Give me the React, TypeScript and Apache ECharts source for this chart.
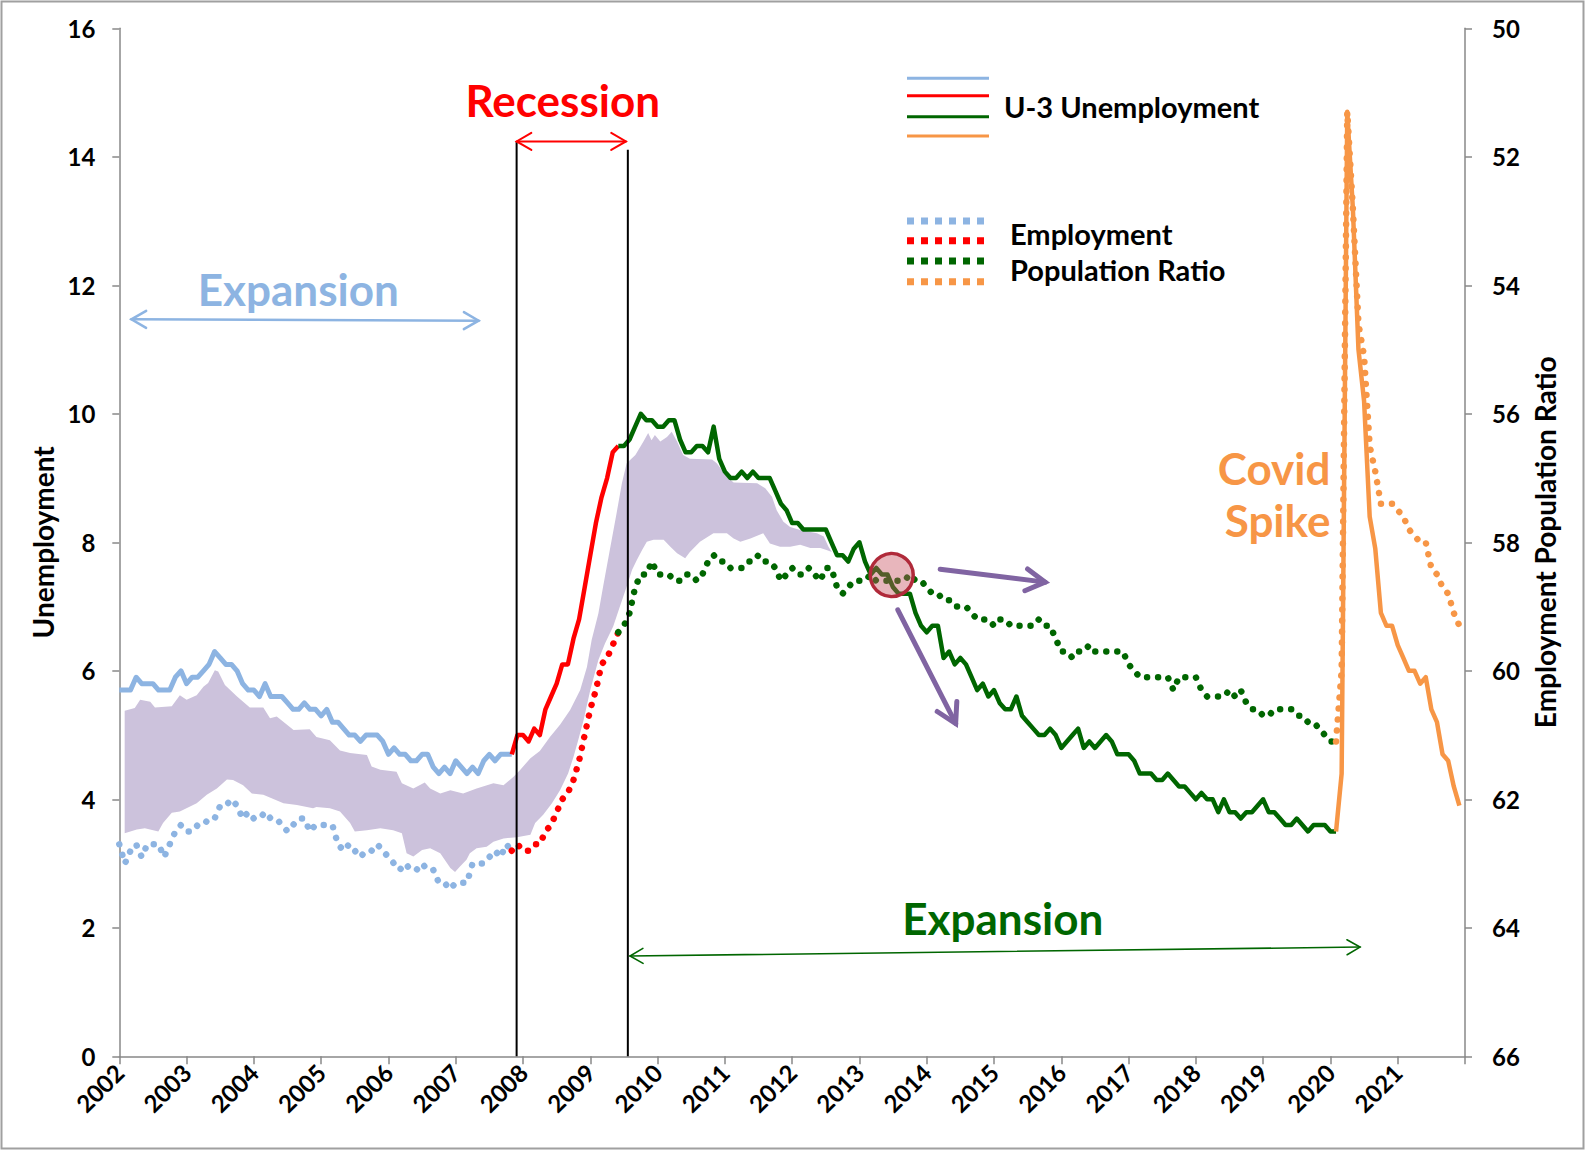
import React, { useEffect, useRef } from "react";
import * as echarts from "echarts";

// ---------- DATA ----------
const startYear = 2002;
const years = Array.from({ length: 21 }, (_, i) => 2002 + i); // tick positions 2002..2022

// U-3 unemployment rate, monthly Jan 2002 .. Dec 2021
const unemployment = [
  5.7, 5.7, 5.7, 5.9, 5.8, 5.8, 5.8, 5.7, 5.7, 5.7, 5.9, 6.0,
  5.8, 5.9, 5.9, 6.0, 6.1, 6.3, 6.2, 6.1, 6.1, 6.0, 5.8, 5.7,
  5.7, 5.6, 5.8, 5.6, 5.6, 5.6, 5.5, 5.4, 5.4, 5.5, 5.4, 5.4,
  5.3, 5.4, 5.2, 5.2, 5.1, 5.0, 5.0, 4.9, 5.0, 5.0, 5.0, 4.9,
  4.7, 4.8, 4.7, 4.7, 4.6, 4.6, 4.7, 4.7, 4.5, 4.4, 4.5, 4.4,
  4.6, 4.5, 4.4, 4.5, 4.4, 4.6, 4.7, 4.6, 4.7, 4.7, 4.7, 5.0,
  5.0, 4.9, 5.1, 5.0, 5.4, 5.6, 5.8, 6.1, 6.1, 6.5, 6.8, 7.3,
  7.8, 8.3, 8.7, 9.0, 9.4, 9.5, 9.5, 9.6, 9.8, 10.0, 9.9, 9.9,
  9.8, 9.8, 9.9, 9.9, 9.6, 9.4, 9.4, 9.5, 9.5, 9.4, 9.8, 9.3,
  9.1, 9.0, 9.0, 9.1, 9.0, 9.1, 9.0, 9.0, 9.0, 8.8, 8.6, 8.5,
  8.3, 8.3, 8.2, 8.2, 8.2, 8.2, 8.2, 8.0, 7.8, 7.8, 7.7, 7.9,
  8.0, 7.7, 7.5, 7.6, 7.5, 7.5, 7.3, 7.2, 7.2, 7.2, 6.9, 6.7,
  6.6, 6.7, 6.7, 6.2, 6.3, 6.1, 6.2, 6.1, 5.9, 5.7, 5.8, 5.6,
  5.7, 5.5, 5.4, 5.4, 5.6, 5.3, 5.2, 5.1, 5.0, 5.0, 5.1, 5.0,
  4.8, 4.9, 5.0, 5.1, 4.8, 4.9, 4.8, 4.9, 5.0, 4.9, 4.7, 4.7,
  4.7, 4.6, 4.4, 4.4, 4.4, 4.3, 4.3, 4.4, 4.3, 4.2, 4.2, 4.1,
  4.0, 4.1, 4.0, 4.0, 3.8, 4.0, 3.8, 3.8, 3.7, 3.8, 3.8, 3.9,
  4.0, 3.8, 3.8, 3.7, 3.6, 3.6, 3.7, 3.6, 3.5, 3.6, 3.6, 3.6,
  3.5, 3.5, 4.4, 14.7, 13.2, 11.0, 10.2, 8.4, 7.9, 6.9, 6.7, 6.7,
  6.4, 6.2, 6.0, 6.0, 5.8, 5.9, 5.4, 5.2, 4.7, 4.6, 4.2, 3.9,
];

// Employment-population ratio, monthly Jan 2002 .. Dec 2021
const employmentRatio = [
  62.7, 63.0, 62.8, 62.7, 62.9, 62.7, 62.7, 62.7, 62.9, 62.7, 62.5, 62.4,
  62.5, 62.5, 62.4, 62.4, 62.3, 62.3, 62.1, 62.1, 62.0, 62.1, 62.3, 62.2,
  62.3, 62.3, 62.2, 62.3, 62.3, 62.4, 62.5, 62.4, 62.3, 62.3, 62.5, 62.4,
  62.4, 62.4, 62.4, 62.7, 62.8, 62.7, 62.8, 62.9, 62.8, 62.8, 62.7, 62.8,
  62.9, 63.0, 63.1, 63.0, 63.1, 63.1, 63.0, 63.1, 63.1, 63.3, 63.3, 63.4,
  63.3, 63.3, 63.3, 63.0, 63.0, 63.0, 62.9, 62.8, 62.9, 62.7, 62.8, 62.7,
  62.8, 62.8, 62.7, 62.7, 62.5, 62.4, 62.2, 62.0, 61.9, 61.7, 61.4, 61.0,
  60.6, 60.3, 59.9, 59.8, 59.6, 59.4, 59.3, 59.1, 58.7, 58.5, 58.5, 58.3,
  58.5, 58.5, 58.5, 58.6, 58.6, 58.5, 58.5, 58.6, 58.5, 58.3, 58.2, 58.3,
  58.3, 58.4, 58.4, 58.4, 58.3, 58.3, 58.2, 58.3, 58.3, 58.4, 58.6, 58.5,
  58.4, 58.5, 58.5, 58.4, 58.5, 58.6, 58.4, 58.4, 58.7, 58.8, 58.7, 58.6,
  58.6, 58.6, 58.5, 58.6, 58.6, 58.6, 58.6, 58.6, 58.6, 58.5, 58.6, 58.6,
  58.7, 58.8, 58.8, 58.9, 58.9, 59.0, 59.0, 59.0, 59.1, 59.2, 59.2, 59.2,
  59.3, 59.2, 59.2, 59.3, 59.3, 59.3, 59.3, 59.3, 59.2, 59.3, 59.3, 59.5,
  59.7, 59.7, 59.8, 59.7, 59.7, 59.6, 59.7, 59.7, 59.7, 59.7, 59.7, 59.7,
  59.9, 60.0, 60.1, 60.1, 60.1, 60.1, 60.1, 60.1, 60.3, 60.1, 60.1, 60.1,
  60.1, 60.3, 60.4, 60.4, 60.4, 60.4, 60.3, 60.4, 60.3, 60.5, 60.6, 60.6,
  60.7, 60.7, 60.6, 60.6, 60.6, 60.6, 60.7, 60.7, 60.8, 60.8, 60.9, 61.0,
  61.1, 61.1, 60.0, 51.3, 52.8, 54.6, 55.1, 56.5, 56.9, 57.4, 57.4, 57.4,
  57.5, 57.6, 57.8, 57.9, 58.0, 58.0, 58.4, 58.5, 58.7, 58.8, 59.1, 59.3,
];

// Period boundaries (month index): Nov 2007, Jun 2009, Feb 2020
const periodBreaks = [0, 70, 89, 217, 239];
const periodColors = ["#8DB4E2", "#FF0000", "#006600", "#F79646"];

// Shaded band (year, unemployment-axis value)
const bandTop = [
  [2002.08, 5.38], [2002.23, 5.42], [2002.31, 5.55], [2002.46, 5.52], [2002.53, 5.43],
  [2002.78, 5.45], [2002.9, 5.62], [2003.0, 5.55], [2003.15, 5.62], [2003.25, 5.75],
  [2003.32, 5.81], [2003.42, 6.01], [2003.47, 5.99], [2003.57, 5.78], [2003.75, 5.6],
  [2003.94, 5.43], [2004.14, 5.43], [2004.24, 5.26], [2004.34, 5.29], [2004.59, 5.08],
  [2004.83, 5.09], [2004.93, 4.97], [2005.13, 4.92], [2005.28, 4.76], [2005.43, 4.72],
  [2005.68, 4.69], [2005.75, 4.51], [2005.88, 4.46], [2006.12, 4.43], [2006.2, 4.25],
  [2006.37, 4.17], [2006.54, 4.26], [2006.62, 4.17], [2006.77, 4.09], [2006.92, 4.14],
  [2007.11, 4.09], [2007.31, 4.17], [2007.56, 4.25], [2007.71, 4.22], [2007.86, 4.35],
  [2007.96, 4.46], [2008.11, 4.64], [2008.25, 4.75], [2008.4, 4.97], [2008.55, 5.16],
  [2008.7, 5.39], [2008.85, 5.7], [2008.95, 6.06], [2009.02, 6.48], [2009.12, 6.89],
  [2009.19, 7.31], [2009.29, 7.88], [2009.39, 8.45], [2009.47, 8.92], [2009.54, 9.23],
  [2009.67, 9.36], [2009.79, 9.57], [2009.86, 9.7], [2009.91, 9.59], [2009.96, 9.67],
  [2010.04, 9.57], [2010.14, 9.64], [2010.21, 9.72], [2010.29, 9.57], [2010.38, 9.36],
  [2010.48, 9.3], [2010.81, 9.29], [2010.88, 9.23], [2011.03, 9.02], [2011.13, 8.93],
  [2011.48, 8.92], [2011.6, 8.84], [2011.7, 8.71], [2011.77, 8.5], [2011.87, 8.32],
  [2011.97, 8.24], [2012.12, 8.19], [2012.37, 8.14], [2012.47, 8.09], [2012.54, 7.93],
  [2012.59, 7.85],
];
const bandBottom = [
  [2002.08, 3.47], [2002.26, 3.53], [2002.38, 3.55], [2002.58, 3.5], [2002.65, 3.63],
  [2002.78, 3.79], [2002.9, 3.81], [2003.15, 3.94], [2003.3, 4.07], [2003.45, 4.17],
  [2003.6, 4.31], [2003.69, 4.3], [2003.84, 4.22], [2003.97, 4.09], [2004.14, 4.07],
  [2004.44, 3.94], [2004.64, 3.91], [2004.88, 3.86], [2004.93, 3.88], [2005.13, 3.86],
  [2005.28, 3.81], [2005.43, 3.63], [2005.5, 3.5], [2005.68, 3.52], [2005.88, 3.55],
  [2006.07, 3.52], [2006.2, 3.47], [2006.27, 3.16], [2006.37, 3.11], [2006.5, 3.21],
  [2006.62, 3.24], [2006.77, 3.16], [2006.92, 2.93], [2006.99, 2.87], [2007.06, 2.95],
  [2007.16, 3.06], [2007.21, 3.16], [2007.31, 3.24], [2007.46, 3.26], [2007.56, 3.34],
  [2007.71, 3.39], [2007.91, 3.41], [2008.11, 3.45], [2008.18, 3.63], [2008.3, 3.76],
  [2008.43, 3.94], [2008.55, 4.14], [2008.67, 4.4], [2008.75, 4.66], [2008.82, 4.92],
  [2008.9, 5.23], [2009.0, 5.7], [2009.12, 6.17], [2009.22, 6.43], [2009.34, 6.69],
  [2009.44, 7.0], [2009.54, 7.31], [2009.62, 7.57], [2009.69, 7.72], [2009.77, 7.88],
  [2009.84, 8.01], [2009.94, 8.04], [2010.09, 8.04], [2010.19, 7.93], [2010.29, 7.83],
  [2010.41, 7.75], [2010.48, 7.85], [2010.63, 8.01], [2010.83, 8.14], [2011.03, 8.14],
  [2011.13, 8.06], [2011.23, 8.01], [2011.38, 8.06], [2011.57, 8.14], [2011.67, 7.98],
  [2011.82, 7.93], [2011.97, 7.93], [2012.12, 7.96], [2012.27, 7.91], [2012.42, 7.91],
  [2012.51, 7.88], [2012.59, 7.85],
];

// Annotations (year, unemployment-axis value)
const recessionLines = [[2007.905, 14.24], [2009.558, 14.11]];
const recessionLabel = { text: "Recession", at: [2008.59, 14.88] };
const recessionArrow = [[2007.905, 14.24], [2009.53, 14.24]];
const expansion1Label = { text: "Expansion", at: [2004.66, 11.94] };
const expansion1Arrow = [[2002.18, 11.47], [2007.34, 11.45]];
const expansion2Label = { text: "Expansion", at: [2015.13, 2.16] };
const expansion2Arrow = [[2009.59, 1.56], [2020.44, 1.7]];
const covidLabel = [{ text: "Covid", at: [2020.0, 9.16] }, { text: "Spike", at: [2020.0, 8.34] }];
const circleCenter = [2013.48, 7.49];
const purpleArrows = [
  [[2014.2, 7.58], [2015.76, 7.38]],
  [[2013.57, 6.95], [2014.43, 5.18]],
];

const FONT = 'Lato, "Open Sans", "DejaVu Sans", sans-serif';

const monthX = (i: number) => startYear + i / 12;
const segment = (arr: number[], from: number, to: number) =>
  arr.slice(from, to + 1).map((v, k) => [monthX(from + k), v]);

function arrowEls(p1: number[], p2: number[], color: string, width: number, head: number, both: boolean) {
  const els: any[] = [];
  els.push({
    type: "line",
    shape: { x1: p1[0], y1: p1[1], x2: p2[0], y2: p2[1] },
    style: { stroke: color, lineWidth: width, lineCap: "round" },
  });
  const mk = (tip: number[], from: number[]) => {
    const ang = Math.atan2(from[1] - tip[1], from[0] - tip[0]);
    const a = (30 * Math.PI) / 180;
    return {
      type: "polyline",
      shape: {
        points: [
          [tip[0] + head * Math.cos(ang + a), tip[1] + head * Math.sin(ang + a)],
          [tip[0], tip[1]],
          [tip[0] + head * Math.cos(ang - a), tip[1] + head * Math.sin(ang - a)],
        ],
      },
      style: { stroke: color, fill: null, lineWidth: width, lineCap: "round", lineJoin: "miter" },
    };
  };
  els.push(mk(p2, p1));
  if (both) els.push(mk(p1, p2));
  return els;
}

export default function App() {
  const ref = useRef<HTMLDivElement>(null);

  useEffect(() => {
    document.body.style.margin = "0";
    const chart = echarts.init(ref.current!, null, { renderer: "svg" });

    const series: any[] = [];

    // band
    series.push({
      type: "custom",
      name: "band",
      coordinateSystem: "cartesian2d",
      xAxisIndex: 0,
      yAxisIndex: 0,
      z: 1,
      silent: true,
      clip: false,
      data: [[bandTop[0][0], bandTop[0][1]]],
      renderItem: (_p: any, api: any) => {
        const pts = bandTop
          .map((pt) => api.coord(pt))
          .concat(bandBottom.slice().reverse().map((pt) => api.coord(pt)));
        return { type: "polygon", shape: { points: pts }, style: { fill: "#CCC2DC" } };
      },
    });

    for (let s = 0; s < 4; s++) {
      const from = periodBreaks[s];
      const to = periodBreaks[s + 1];
      series.push({
        type: "line",
        name: "U-3 Unemployment",
        xAxisIndex: 0,
        yAxisIndex: 0,
        z: 3,
        showSymbol: false,
        symbol: "none",
        data: segment(unemployment, from, to),
        lineStyle: { color: periodColors[s], width: s === 0 ? 5 : 4.5, join: "round" },
      });
      series.push({
        type: "line",
        name: "Employment Population Ratio",
        xAxisIndex: 0,
        yAxisIndex: 1,
        z: 3,
        showSymbol: false,
        symbol: "none",
        data: segment(employmentRatio, from, to),
        lineStyle: { color: periodColors[s], width: 6.5, type: [0.01, 11], cap: "round" },
      });
    }

    // annotations
    series.push({
      type: "custom",
      name: "annotations",
      coordinateSystem: "cartesian2d",
      xAxisIndex: 0,
      yAxisIndex: 0,
      z: 10,
      silent: true,
      clip: false,
      data: [[circleCenter[0], circleCenter[1]]],
      renderItem: (_p: any, api: any) => {
        const c = (pt: number[]) => api.coord(pt);
        const ch: any[] = [];
        recessionLines.forEach(([x, top]) => {
          const a = c([x, 0]);
          const b = c([x, top]);
          ch.push({
            type: "line",
            shape: { x1: a[0], y1: a[1], x2: b[0], y2: b[1] },
            style: { stroke: "#000", lineWidth: 2 },
          });
        });
        ch.push(...arrowEls(c(recessionArrow[0]), c(recessionArrow[1]), "#FF0000", 2, 17, true));
        ch.push(...arrowEls(c(expansion1Arrow[0]), c(expansion1Arrow[1]), "#8DB4E2", 2.5, 17, true));
        ch.push(...arrowEls(c(expansion2Arrow[0]), c(expansion2Arrow[1]), "#006600", 1.6, 15, true));
        purpleArrows.forEach(([a, b]) => {
          ch.push(...arrowEls(c(a), c(b), "#8064A2", 5, 22, false));
        });
        const cc = c(circleCenter);
        ch.push({
          type: "circle",
          shape: { cx: cc[0], cy: cc[1], r: 21.5 },
          style: { fill: "rgba(200,80,95,0.42)", stroke: "#B02A3A", lineWidth: 3.5 },
        });
        const txt = (t: string, at: number[], color: string, align: string) => {
          const p = c(at);
          return {
            type: "text",
            x: p[0],
            y: p[1],
            style: {
              text: t,
              fill: color,
              fontSize: 44,
              fontWeight: "bold",
              fontFamily: FONT,
              align,
              verticalAlign: "middle",
            },
          };
        };
        ch.push(txt(recessionLabel.text, recessionLabel.at, "#FF0000", "center"));
        ch.push(txt(expansion1Label.text, expansion1Label.at, "#8DB4E2", "center"));
        ch.push(txt(expansion2Label.text, expansion2Label.at, "#006600", "center"));
        covidLabel.forEach((l) => ch.push(txt(l.text, l.at, "#F79646", "right")));
        return { type: "group", children: ch };
      },
    });

    const legendSolidY = [78.3, 95.7, 116.7, 136];
    const legendDotY = [221, 240.7, 261, 281.7];
    const graphic: any[] = [
      {
        type: "rect",
        shape: { x: 1.5, y: 1.5, width: 1582, height: 1147 },
        style: { fill: null, stroke: "#A0A0A0", lineWidth: 2 },
        silent: true,
      },
    ];
    legendSolidY.forEach((y, i) =>
      graphic.push({
        type: "line",
        shape: { x1: 907, y1: y, x2: 989, y2: y },
        style: { stroke: periodColors[i], lineWidth: 3 },
      })
    );
    legendDotY.forEach((y, i) =>
      graphic.push({
        type: "line",
        shape: { x1: 907, y1: y, x2: 984, y2: y },
        style: { stroke: periodColors[i], lineWidth: 7, lineDash: [7, 7] },
      })
    );
    const legText = (t: string, x: number, y: number) => ({
      type: "text",
      x,
      y,
      style: {
        text: t,
        fill: "#000",
        fontSize: 29,
        fontWeight: "bold",
        fontFamily: FONT,
        align: "left",
        verticalAlign: "middle",
      },
    });
    graphic.push(legText("U-3 Unemployment", 1004, 106.5));
    graphic.push(legText("Employment", 1010, 233.5));
    graphic.push(legText("Population Ratio", 1010, 269.5));

    const axisLabelBase = {
      color: "#000",
      fontSize: 24,
      fontWeight: "bold",
      fontFamily: FONT,
    };
    const axisLineStyle = { color: "#888888", width: 1.5 };

    chart.setOption({
      animation: false,
      backgroundColor: "#fff",
      grid: { left: 119.3, right: 120, top: 28.3, bottom: 93.7, containLabel: false },
      xAxis: {
        type: "value",
        min: years[0],
        max: years[years.length - 1],
        interval: 1,
        axisLine: { show: true, onZero: false, lineStyle: axisLineStyle },
        axisTick: { show: true, length: 8, lineStyle: axisLineStyle },
        splitLine: { show: false },
        axisLabel: {
          ...axisLabelBase,
          rotate: 45,
          margin: 12,
          formatter: (v: number) => (v < years[years.length - 1] ? String(v) : ""),
        },
      },
      yAxis: [
        {
          type: "value",
          min: 0,
          max: 16,
          interval: 2,
          name: "Unemployment",
          nameLocation: "middle",
          nameRotate: 90,
          nameGap: 55,
          nameTextStyle: { ...axisLabelBase, fontSize: 28 },
          axisLine: { show: true, lineStyle: axisLineStyle },
          axisTick: { show: true, length: 7, lineStyle: axisLineStyle },
          splitLine: { show: false },
          axisLabel: { ...axisLabelBase, margin: 24 },
        },
        {
          type: "value",
          min: 50,
          max: 66,
          interval: 2,
          inverse: true,
          position: "right",
          name: "Employment Population Ratio",
          nameLocation: "middle",
          nameRotate: 90,
          nameGap: 60,
          nameTextStyle: { ...axisLabelBase, fontSize: 28 },
          axisLine: { show: true, lineStyle: axisLineStyle },
          axisTick: { show: true, length: 7, lineStyle: axisLineStyle },
          splitLine: { show: false },
          axisLabel: { ...axisLabelBase, margin: 27 },
        },
      ],
      graphic,
      series,
    });

    return () => chart.dispose();
  }, []);

  return (
    <div
      ref={ref}
      style={{ position: "absolute", left: 0, top: 0, width: 1585, height: 1150 }}
    />
  );
}
